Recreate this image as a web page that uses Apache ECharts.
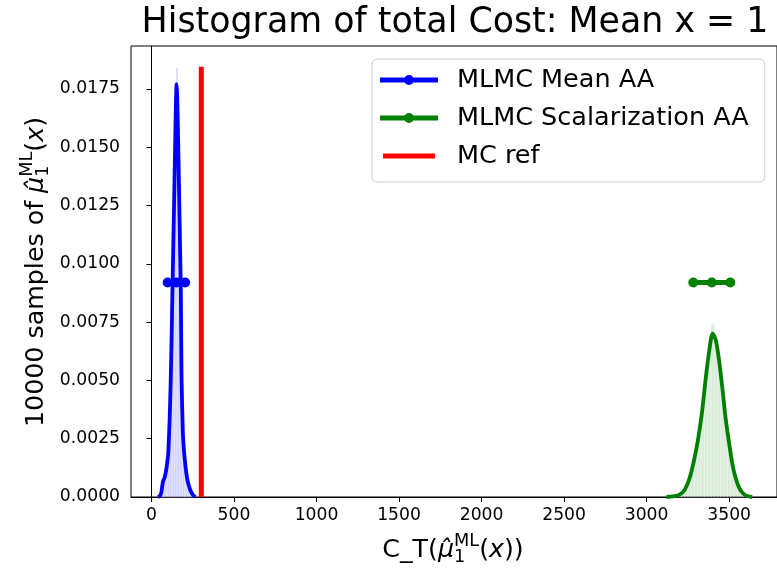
<!DOCTYPE html>
<html>
<head>
<meta charset="utf-8">
<title>Histogram of total Cost</title>
<script src="https://cdn.jsdelivr.net/npm/echarts@6/dist/echarts.min.js"></script>
<style>
  html, body { margin: 0; padding: 0; background: #fff; }
  #chart { width: 777px; height: 568px; }
</style>
</head>
<body>
<div id="chart"></div>
<script>
// ---- data ----
const xTickValues = [0, 500, 1000, 1500, 2000, 2500, 3000, 3500];
const yTickValues = [0, 0.0025, 0.005, 0.0075, 0.01, 0.0125, 0.015, 0.0175];

// histogram of cost samples, MLMC Mean AA (bin left edges, bin width, density)
const blueBinLeft = [50, 60, 70, 80, 90, 100, 110, 120, 130, 140, 150, 160, 170, 180, 190, 200, 210, 220, 230, 240, 250];
const blueBinWidth = 10;
const blueBinDensity = [0.0001, 0.0005, 0.0007, 0.0010, 0.0014, 0.0024, 0.0046, 0.0080, 0.0120, 0.0160, 0.0184, 0.0142, 0.0096, 0.0042, 0.0021, 0.0013, 0.0009, 0.0005, 0.0003, 0.0002, 0.0001];

// kernel density estimate, MLMC Mean AA
const blueKdeX = [40, 51, 60, 66, 71, 78, 88, 96, 102, 110, 116, 122, 128, 135, 142, 148, 152, 156, 162, 168, 174, 178, 182, 190, 198, 208, 216, 222, 235, 250, 265];
const blueKdeY = [0, 0.00005, 0.0002, 0.0005, 0.0007, 0.0008, 0.0011, 0.0015, 0.0019, 0.0033, 0.0048, 0.0068, 0.0092, 0.0118, 0.0145, 0.0168, 0.0177, 0.0172, 0.0152, 0.0128, 0.0104, 0.0088, 0.0052, 0.0028, 0.0019, 0.0012, 0.0008, 0.0006, 0.0003, 0.0001, 0];

// histogram of cost samples, MLMC Scalarization AA
const greenBinLeft = [3150, 3170, 3190, 3210, 3230, 3250, 3270, 3290, 3310, 3330, 3350, 3370, 3390, 3410, 3430, 3450, 3470, 3490, 3510, 3530, 3550, 3570, 3590, 3610];
const greenBinWidth = 20;
const greenBinDensity = [0.00003, 0.0001, 0.0001, 0.0002, 0.0005, 0.0008, 0.0014, 0.0021, 0.0030, 0.0040, 0.0052, 0.0063, 0.0074, 0.0067, 0.0058, 0.0046, 0.0033, 0.0023, 0.0014, 0.0008, 0.0004, 0.0002, 0.0001, 0.00003];

// kernel density estimate, MLMC Scalarization AA
const greenKdeX = [3120, 3160, 3200, 3230, 3260, 3285, 3310, 3335, 3360, 3380, 3400, 3420, 3440, 3460, 3480, 3500, 3520, 3540, 3560, 3585, 3610, 3640];
const greenKdeY = [0, 0.00003, 0.0001, 0.0003, 0.0008, 0.0015, 0.0024, 0.0036, 0.0052, 0.0063, 0.0070, 0.0067, 0.0058, 0.0046, 0.0033, 0.0023, 0.0014, 0.0008, 0.0004, 0.00015, 0.00004, 0];

// interval markers (lower, mean, upper) drawn at a fixed height
const blueInterval = [98, 151, 204];
const greenInterval = [3283, 3395, 3507];
const intervalLevel = 0.0092;

// Monte Carlo reference cost
const mcRefCost = 302;
const mcRefTop = 0.01845;

// ---- helpers ----
const FONT = '"DejaVu Sans", "Noto Sans", sans-serif';
const pairs = (xs, ys) => xs.map((x, i) => [x, ys[i]]);
const bins = (left, w, dens) => left.map((l, i) => [l, l + w, dens[i]]);
const level = (xs, y) => xs.map(x => [x, y]);

function histSeries(name, data, fill) {
  return {
    type: 'custom',
    name: name,
    z: 1,
    silent: true,
    data: data,
    encode: { x: [0, 1], y: 2 },
    renderItem: function (params, api) {
      const p0 = api.coord([api.value(0), api.value(2)]);
      const p1 = api.coord([api.value(1), 0]);
      return {
        type: 'rect',
        shape: { x: p0[0], y: p0[1], width: p1[0] - p0[0], height: p1[1] - p0[1] },
        style: { fill: fill, stroke: 'rgba(255,255,255,0.55)', lineWidth: 0.6 }
      };
    }
  };
}

// small math-style label made of text runs (sup/sub stacked)
const mctx = document.createElement('canvas').getContext('2d');
function runWidth(t, size, it) {
  mctx.font = (it ? 'italic ' : '') + size + 'px ' + FONT;
  return mctx.measureText(t).width;
}
function mathRuns(runs, base) {
  let x = 0, pend = 0;
  const children = [];
  runs.forEach(r => {
    const size = base * (r.s || 1);
    const w = runWidth(r.t, size, r.it);
    children.push({
      type: 'text', x: x, y: r.dy || 0,
      style: {
        text: r.t, fontSize: size, fontFamily: FONT,
        fontStyle: r.it ? 'italic' : 'normal',
        fill: '#000', align: 'left', verticalAlign: 'middle'
      }
    });
    if (r.stack) { pend = Math.max(pend, w); }
    else { x += Math.max(w, pend); pend = 0; }
  });
  return { children: children, width: x };
}

const AXIS_FS = 25.3;
const muRuns = [
  { t: 'μ̂', it: true },
  { t: 'ML', s: 0.7, dy: -8.8, stack: true },
  { t: '1', s: 0.7, dy: 7.8 },
  { t: '(' },
  { t: 'x', it: true },
  { t: ')' }
];
const xName = mathRuns([{ t: 'C_T(' }].concat(muRuns, [{ t: ')' }]), AXIS_FS);
const yName = mathRuns([{ t: '10000 samples of ' }].concat(muRuns), AXIS_FS);

// legend icons: line with a dot, and a plain line
const dotLineIcon = 'path://M0,0 M72,12 M0,3.5 L58,3.5 L58,8.5 L0,8.5 Z M24,6 A5,5 0 1,1 34,6 A5,5 0 1,1 24,6 Z';
const plainLineIcon = 'path://M0,0 M72,12 M3,3.5 L55,3.5 L55,8.5 L3,8.5 Z';

const chart = echarts.init(document.getElementById('chart'), null, { renderer: 'canvas' });

const option = {
  animation: false,
  backgroundColor: '#fff',
  textStyle: { fontFamily: FONT },
  title: {
    text: 'Histogram of total Cost: Mean x = 1',
    left: 455, top: 5, textAlign: 'center', padding: 0,
    textStyle: { fontFamily: FONT, fontSize: 34.8, fontWeight: 'normal', color: '#000' }
  },
  grid: {
    left: 131, top: 46, width: 648, height: 451,
    show: true, borderColor: '#000', borderWidth: 1, backgroundColor: 'transparent'
  },
  legend: {
    orient: 'vertical',
    left: 372, top: 59,
    padding: [8, 16, 13, 8],
    itemWidth: 72, itemHeight: 12, itemGap: 12,
    borderColor: '#cccccc', borderWidth: 1, borderRadius: 5,
    backgroundColor: 'rgba(255,255,255,0.8)',
    textStyle: { fontFamily: FONT, fontSize: 25.5, color: '#000', lineHeight: 26 },
    data: [
      { name: 'MLMC Mean AA', icon: dotLineIcon },
      { name: 'MLMC Scalarization AA', icon: dotLineIcon },
      { name: 'MC ref', icon: plainLineIcon }
    ]
  },
  xAxis: {
    type: 'value', min: -124, max: 3790,
    axisLine: { show: true, onZero: false, lineStyle: { color: '#000', width: 1 } },
    axisTick: { show: true, length: 5, customValues: xTickValues, lineStyle: { color: '#000' } },
    axisLabel: {
      customValues: xTickValues, margin: 10, fontSize: 17.2, fontFamily: FONT, color: '#000',
      formatter: v => String(v)
    },
    splitLine: { show: false }
  },
  yAxis: {
    type: 'value', min: 0, max: 0.01934,
    axisLine: { show: true, lineStyle: { color: '#000', width: 1 } },
    axisTick: { show: true, length: 5, customValues: yTickValues, lineStyle: { color: '#000' } },
    axisLabel: {
      customValues: yTickValues, margin: 11, fontSize: 17.2, fontFamily: FONT, color: '#000',
      formatter: v => v.toFixed(4)
    },
    splitLine: { show: false }
  },
  graphic: [
    { type: 'group', x: 453 - xName.width / 2, y: 550, children: xName.children },
    { type: 'group', rotation: Math.PI / 2, x: 36, y: 272 + yName.width / 2, children: yName.children }
  ],
  series: [
    histSeries('blueHist', bins(blueBinLeft, blueBinWidth, blueBinDensity), 'rgba(0,0,255,0.2)'),
    histSeries('greenHist', bins(greenBinLeft, greenBinWidth, greenBinDensity), 'rgba(0,128,0,0.15)'),
    {
      type: 'line', name: 'blueKde', data: pairs(blueKdeX, blueKdeY), z: 3,
      showSymbol: false, smooth: 0.2, silent: true,
      lineStyle: { color: '#0000ff', width: 3.8 }, itemStyle: { color: '#0000ff' }
    },
    {
      type: 'line', name: 'greenKde', data: pairs(greenKdeX, greenKdeY), z: 3,
      showSymbol: false, smooth: 0.3, silent: true,
      lineStyle: { color: '#008000', width: 3.8 }, itemStyle: { color: '#008000' }
    },
    {
      type: 'line', name: 'MLMC Mean AA', data: level(blueInterval, intervalLevel), z: 4,
      symbol: 'circle', symbolSize: 10, showSymbol: true,
      lineStyle: { color: '#0000ff', width: 5 }, itemStyle: { color: '#0000ff' }
    },
    {
      type: 'line', name: 'MLMC Scalarization AA', data: level(greenInterval, intervalLevel), z: 4,
      symbol: 'circle', symbolSize: 10, showSymbol: true,
      lineStyle: { color: '#008000', width: 5 }, itemStyle: { color: '#008000' }
    },
    {
      type: 'line', name: 'MC ref', data: [[mcRefCost, 0], [mcRefCost, mcRefTop]], z: 4,
      showSymbol: false,
      lineStyle: { color: '#ff0000', width: 5 }, itemStyle: { color: '#ff0000' }
    }
  ]
};

chart.setOption(option);
</script>
</body>
</html>
